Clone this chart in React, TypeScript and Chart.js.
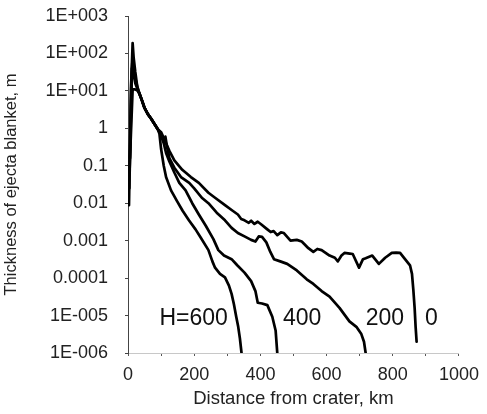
import { useEffect, useRef } from "react";
import { Chart, registerables } from "chart.js";

Chart.register(...registerables);

// Ejecta blanket thickness (m) versus distance from the crater (km), one curve per H
const distanceH0 = [3, 9, 14, 17, 22, 28, 34, 40, 50, 60, 70, 80, 90, 100, 110, 125, 140, 164, 190, 214, 243, 263, 293, 313, 332, 342, 352, 365, 372, 382, 392, 402, 421, 431, 440, 451, 462, 471, 491, 510, 525, 545, 560, 572, 585, 609, 625, 634, 645, 654, 670, 679, 698, 710, 718, 738, 758, 777, 797, 810, 822, 837, 852, 858, 862, 866, 869, 872];
const thicknessH0 = [0.0089, 10, 190, 79, 32, 13, 8.9, 6.3, 3.5, 2.4, 1.8, 1.3, 0.95, 0.79, 0.5, 0.25, 0.14, 0.078, 0.05, 0.035, 0.019, 0.014, 0.0089, 0.0066, 0.005, 0.0038, 0.0035, 0.003, 0.0034, 0.0028, 0.0032, 0.00275, 0.002, 0.0017, 0.0018, 0.0014, 0.00166, 0.0016, 0.001, 0.00105, 0.00095, 0.00063, 0.0005, 0.0006, 0.00056, 0.0004, 0.00035, 0.00028, 0.0004, 0.00047, 0.00045, 0.00044, 0.00019, 0.00032, 0.00034, 0.0004, 0.00024, 0.00035, 0.00047, 0.00048, 0.00047, 0.00032, 0.00022, 0.00013, 0.00005, 0.000016, 0.000005, 0.000002];

const distanceH200 = [4, 10, 13, 18, 24, 32, 40, 50, 60, 70, 80, 90, 100, 108, 113, 118, 125, 140, 160, 185, 200, 223, 243, 268, 293, 313, 332, 352, 372, 385, 395, 405, 418, 430, 441, 460, 481, 510, 540, 560, 585, 609, 639, 669, 690, 705, 713, 718];
const thicknessH200 = [0.025, 20, 56, 35, 18, 9.5, 6.3, 3.5, 2.4, 1.8, 1.3, 0.95, 0.71, 0.45, 0.6, 0.32, 0.16, 0.089, 0.05, 0.035, 0.025, 0.014, 0.01, 0.0056, 0.0035, 0.0022, 0.0016, 0.0013, 0.00105, 0.00095, 0.0013, 0.00126, 0.0009, 0.0005, 0.00032, 0.00028, 0.00024, 0.00016, 0.000093, 0.00007, 0.000045, 0.000032, 0.000016, 0.000007, 0.000005, 0.0000032, 0.000002, 0.000001];

const distanceH400 = [5, 12, 16, 22, 32, 40, 50, 60, 70, 80, 90, 100, 108, 115, 125, 140, 155, 174, 194, 214, 235, 258, 273, 290, 313, 330, 352, 372, 385, 392, 405, 421, 436, 446, 451];
const thicknessH400 = [0.063, 40, 32, 16, 9.3, 6.3, 3.5, 2.4, 1.8, 1.3, 0.95, 0.63, 0.4, 0.22, 0.13, 0.066, 0.035, 0.022, 0.01, 0.005, 0.0025, 0.0011, 0.00056, 0.0004, 0.00032, 0.00022, 0.00014, 0.000083, 0.000045, 0.000022, 0.000021, 0.000019, 0.0000093, 0.000004, 0.000001];

const distanceH600 = [6, 14, 20, 27, 34, 40, 50, 60, 70, 80, 90, 95, 100, 108, 115, 130, 149, 165, 184, 204, 220, 243, 255, 263, 278, 293, 305, 313, 320, 327, 333, 338, 343];
const thicknessH600 = [0.16, 11, 11, 10.5, 8.9, 6.3, 3.5, 2.4, 1.8, 1.3, 0.95, 0.71, 0.28, 0.1, 0.05, 0.022, 0.011, 0.0063, 0.0035, 0.002, 0.0012, 0.00056, 0.00028, 0.00019, 0.00013, 0.000105, 0.000063, 0.000038, 0.00002, 0.0000093, 0.000005, 0.0000025, 0.000001];

const xTickValues = [0, 100, 200, 300, 400, 500, 600, 700, 800, 900, 1000];
const xTickLabels = ["0", "", "200", "", "400", "", "600", "", "800", "", "1000"];
const yTickValues = [1e-6, 1e-5, 1e-4, 1e-3, 1e-2, 1e-1, 1, 1e1, 1e2, 1e3];
const yTickLabels = ["1E-006", "1E-005", "0.0001", "0.001", "0.01", "0.1", "1", "1E+001", "1E+002", "1E+003"];

// In-plot curve labels, written just above the distance axis
const curveLabels = ["H=600", "400", "200", "0"];
const curveLabelDistance = [95, 468, 718, 897];
const curveLabelThickness = 8.5e-6;

const FONT = '"Liberation Sans", Arial, sans-serif';

const curveLabelPlugin = {
  id: "curveLabels",
  afterDatasetsDraw(chart: any) {
    const { ctx, scales } = chart;
    const x = scales.x;
    const y = scales.y;
    ctx.save();
    ctx.font = `23px ${FONT}`;
    ctx.fillStyle = "#111";
    ctx.textAlign = "left";
    ctx.textBaseline = "middle";
    const py = y.getPixelForValue(curveLabelThickness);
    curveLabels.forEach((text, i) => {
      ctx.fillText(text, x.getPixelForValue(curveLabelDistance[i]), py);
    });
    ctx.restore();
  },
};

function series(xs: number[], ys: number[]) {
  return xs.map((x, i) => ({ x, y: ys[i] }));
}

export default function App() {
  const canvasRef = useRef<HTMLCanvasElement | null>(null);

  useEffect(() => {
    if (!canvasRef.current) return;
    const line = {
      showLine: true,
      borderColor: "#000",
      backgroundColor: "#000",
      borderWidth: 2.7,
      pointRadius: 0,
      pointHoverRadius: 0,
      tension: 0,
      borderJoinStyle: "round" as const,
      borderCapStyle: "round" as const,
    };
    const chart = new Chart(canvasRef.current, {
      type: "scatter",
      data: {
        datasets: [
          { label: "H=0", data: series(distanceH0, thicknessH0), ...line },
          { label: "H=200", data: series(distanceH200, thicknessH200), ...line },
          { label: "H=400", data: series(distanceH400, thicknessH400), ...line },
          { label: "H=600", data: series(distanceH600, thicknessH600), ...line },
        ],
      },
      options: {
        animation: false,
        responsive: false,
        devicePixelRatio: 1,
        layout: { padding: { top: 16, right: 20, left: 0, bottom: 0 } },
        plugins: {
          legend: { display: false },
          tooltip: { enabled: false },
        },
        scales: {
          x: {
            type: "linear",
            min: 0,
            max: 1000,
            afterBuildTicks: (axis: any) => {
              axis.ticks = xTickValues.map((v) => ({ value: v }));
            },
            afterFit: (axis: any) => {
              axis.height = 61;
            },
            grid: {
              display: true,
              drawOnChartArea: false,
              drawTicks: true,
              tickLength: 3,
              color: "#555",
            },
            border: { display: true, color: "#c8c8c8", width: 1 },
            ticks: {
              autoSkip: false,
              maxRotation: 0,
              padding: 8,
              color: "#222",
              font: { family: FONT, size: 18 },
              callback: (_v: any, i: number) => xTickLabels[i],
            },
            title: {
              display: true,
              text: "Distance from crater, km",
              color: "#222",
              font: { family: FONT, size: 18.5 },
              padding: { top: 0, bottom: 4 },
            },
          },
          y: {
            type: "logarithmic",
            min: 1e-6,
            max: 1e3,
            afterBuildTicks: (axis: any) => {
              axis.ticks = yTickValues.map((v) => ({ value: v }));
            },
            afterFit: (axis: any) => {
              axis.width = 128;
              // the outer labels may overhang the plot; keep the layout padding as the only top gap
              axis.paddingTop = 0;
              axis.paddingBottom = 0;
            },
            grid: {
              display: true,
              drawOnChartArea: false,
              drawTicks: true,
              tickLength: 3,
              color: "#444",
            },
            border: { display: true, color: "#444", width: 1 },
            ticks: {
              autoSkip: false,
              padding: 17,
              color: "#222",
              font: { family: FONT, size: 18 },
              callback: (_v: any, i: number) => yTickLabels[i],
            },
            title: {
              display: true,
              text: "Thickness of ejecta blanket, m",
              color: "#222",
              font: { family: FONT, size: 16.5 },
              padding: { top: 2, bottom: 0 },
            },
          },
        },
      },
      plugins: [curveLabelPlugin],
    });
    return () => chart.destroy();
  }, []);

  return (
    <div style={{ position: "absolute", left: 0, top: 0, width: 487, height: 414, background: "#fff" }}>
      <canvas ref={canvasRef} width={487} height={414} style={{ display: "block", width: 487, height: 414 }} />
    </div>
  );
}
